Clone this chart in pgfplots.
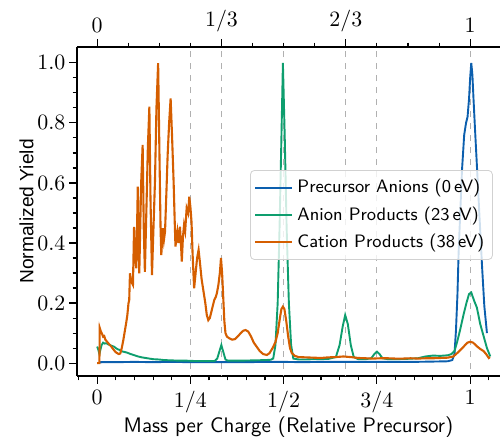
\documentclass[border=0pt]{standalone}
\usepackage{fontspec}
\usepackage{pgfplots}
\pgfplotsset{compat=1.18}
\renewcommand{\familydefault}{\sfdefault}
\newfontfamily\arialfont{Liberation Sans}
\definecolor{cblue}{HTML}{0C5FAE}
\definecolor{cgreen}{HTML}{0E9E6E}
\definecolor{corange}{HTML}{D55E00}
\definecolor{dgray}{HTML}{B0B0B0}
\pgfplotsset{
  myaxis/.style={
    scale only axis, width=211.5pt, height=164.5pt,
    xmin=-0.054, xmax=1.08, ymin=-0.043, ymax=1.053,
    tick align=outside, major tick length=3.8pt, minor tick length=2.2pt,
    every tick/.style={black, line width=0.55pt},
    axis line style={line width=0.6pt},
    font=\fontsize{10.5}{12.6}\selectfont,
  }
}
\begin{document}
\begin{tikzpicture}
\begin{axis}[myaxis,
  axis x line*=bottom, axis y line*=left,
  xtick={0,0.25,0.5,0.75,1},
  xticklabels={$0$,$1/4$,$1/2$,$3/4$,$1$},
  minor xtick={-0.05,0.05,0.1,0.15,0.2,0.3,0.35,0.4,0.45,0.55,0.6,0.65,0.7,0.8,0.85,0.9,0.95,1.05},
  ytick={0,0.2,0.4,0.6,0.8,1.0},
  minor ytick={0.05,0.1,0.15,0.25,0.3,0.35,0.45,0.5,0.55,0.65,0.7,0.75,0.85,0.9,0.95},
  yticklabel style={xshift=1.5pt, /pgf/number format/.cd, fixed, fixed zerofill, precision=1},
  xlabel={Mass per Charge (Relative Precursor)},
  ylabel={\arialfont\fontsize{9.6}{11}\selectfont Normalized Yield},
  xlabel style={yshift=5pt},
  ylabel style={yshift=-5pt},
  legend style={at={(0.983,0.626)}, anchor=north east, draw=black!18,
    rounded corners=2pt, fill=white, fill opacity=0.8, text opacity=1,
    font=\fontsize{9}{10.8}\selectfont, row sep=1.4pt, inner xsep=2pt, inner ysep=2.5pt,
    /tikz/every even column/.append style={column sep=4pt}},
  legend cell align=left,
  legend image code/.code={\draw[#1, line width=1pt] (0cm,0cm) -- (0.65cm,0cm);},
]
\coordinate (LL) at (rel axis cs:0,0);
\coordinate (UR) at (rel axis cs:1,1);
\addplot[forget plot, dgray, dashed, line width=0.5pt] coordinates {(0.25,-0.1) (0.25,1.2)};
\addplot[forget plot, dgray, dashed, line width=0.5pt] coordinates {(0.33333,-0.1) (0.33333,1.2)};
\addplot[forget plot, dgray, dashed, line width=0.5pt] coordinates {(0.5,-0.1) (0.5,1.2)};
\addplot[forget plot, dgray, dashed, line width=0.5pt] coordinates {(0.66667,-0.1) (0.66667,1.2)};
\addplot[forget plot, dgray, dashed, line width=0.5pt] coordinates {(0.75,-0.1) (0.75,1.2)};
\addplot[forget plot, dgray, dashed, line width=0.5pt] coordinates {(1,-0.1) (1,1.2)};

\addplot[cblue, line width=0.95pt] coordinates {
(0.008,0.000)(0.010,0.003)(0.050,0.003)(0.100,0.004)(0.150,0.003)(0.200,0.004)
(0.250,0.003)(0.300,0.003)(0.350,0.003)(0.400,0.003)(0.450,0.004)(0.500,0.004)
(0.550,0.003)(0.600,0.004)(0.650,0.004)(0.700,0.004)(0.750,0.004)(0.800,0.004)
(0.850,0.004)(0.900,0.005)(0.940,0.006)(0.952,0.010)(0.958,0.030)(0.962,0.110)
(0.966,0.230)(0.969,0.366)(0.973,0.488)(0.978,0.640)(0.984,0.760)(0.989,0.800)
(0.993,0.820)(0.997,0.880)(1.000,0.950)(1.003,1.000)(1.006,0.960)(1.009,0.880)
(1.013,0.780)(1.018,0.660)(1.025,0.488)(1.032,0.320)(1.038,0.190)(1.045,0.100)
};
\addlegendentry{Precursor Anions (0\,eV)}

\addplot[cgreen, line width=0.95pt] coordinates {
(0.000,0.055)(0.003,0.045)(0.006,0.030)(0.009,0.045)(0.012,0.060)(0.016,0.068)
(0.020,0.065)(0.025,0.066)(0.030,0.062)(0.035,0.060)(0.040,0.057)(0.045,0.055)
(0.050,0.050)(0.055,0.046)(0.060,0.044)(0.065,0.040)(0.070,0.038)(0.080,0.035)
(0.090,0.030)(0.100,0.026)(0.110,0.022)(0.120,0.019)(0.130,0.017)(0.140,0.015)
(0.150,0.013)(0.165,0.012)(0.180,0.010)(0.200,0.009)(0.220,0.008)(0.240,0.008)
(0.260,0.007)(0.280,0.007)(0.300,0.007)(0.315,0.007)(0.322,0.015)(0.328,0.040)
(0.333,0.060)(0.338,0.038)(0.344,0.012)(0.350,0.008)(0.380,0.008)(0.420,0.009)
(0.450,0.010)(0.465,0.011)(0.472,0.015)(0.478,0.060)(0.484,0.200)(0.489,0.450)
(0.494,0.750)(0.498,1.000)(0.503,0.750)(0.508,0.450)(0.514,0.200)(0.520,0.060)
(0.526,0.015)(0.540,0.012)(0.560,0.012)(0.580,0.013)(0.600,0.013)(0.620,0.014)
(0.640,0.020)(0.650,0.060)(0.658,0.120)(0.665,0.160)(0.672,0.130)(0.680,0.060)
(0.688,0.020)(0.700,0.013)(0.720,0.013)(0.735,0.016)(0.743,0.030)(0.750,0.038)
(0.757,0.030)(0.765,0.016)(0.780,0.013)(0.800,0.013)(0.830,0.014)(0.860,0.016)
(0.880,0.022)(0.900,0.025)(0.920,0.024)(0.940,0.026)(0.950,0.030)(0.958,0.040)
(0.965,0.070)(0.973,0.110)(0.982,0.160)(0.990,0.200)(0.997,0.230)(1.003,0.235)
(1.010,0.210)(1.018,0.185)(1.027,0.130)(1.036,0.090)(1.045,0.050)(1.054,0.022)
};
\addlegendentry{Anion Products (23\,eV)}

\addplot[corange, line width=1.05pt] coordinates {
(0.000,0.000)(0.006,0.000)(0.007,0.117)(0.010,0.105)(0.013,0.098)(0.016,0.088)
(0.019,0.090)(0.022,0.078)(0.026,0.072)(0.030,0.066)(0.034,0.060)(0.038,0.055)
(0.042,0.048)(0.046,0.042)(0.050,0.036)(0.054,0.033)(0.058,0.030)(0.062,0.032)
(0.066,0.050)(0.070,0.075)(0.074,0.105)(0.078,0.135)(0.081,0.160)(0.084,0.199)
(0.086,0.210)(0.088,0.299)(0.092,0.270)(0.096,0.260)(0.099,0.454)(0.102,0.350)
(0.105,0.316)(0.109,0.588)(0.111,0.420)(0.113,0.299)(0.116,0.480)(0.118,0.599)
(0.122,0.727)(0.125,0.450)(0.128,0.304)(0.133,0.560)(0.136,0.720)(0.140,0.854)
(0.143,0.550)(0.147,0.293)(0.151,0.450)(0.155,0.604)(0.159,0.850)(0.1635,0.999)
(0.167,0.700)(0.170,0.450)(0.172,0.360)(0.176,0.449)(0.179,0.410)(0.182,0.438)
(0.186,0.580)(0.189,0.693)(0.193,0.800)(0.197,0.882)(0.201,0.750)(0.205,0.604)
(0.208,0.470)(0.210,0.388)(0.213,0.420)(0.215,0.438)(0.218,0.400)(0.222,0.454)
(0.225,0.390)(0.227,0.338)(0.230,0.420)(0.233,0.460)(0.236,0.440)(0.240,0.516)
(0.244,0.500)(0.247,0.554)(0.250,0.520)(0.253,0.471)(0.256,0.360)(0.260,0.249)
(0.264,0.300)(0.268,0.350)(0.272,0.377)(0.276,0.330)(0.280,0.280)(0.285,0.240)
(0.290,0.200)(0.294,0.160)(0.298,0.143)(0.302,0.150)(0.306,0.170)(0.310,0.190)
(0.314,0.210)(0.318,0.220)(0.321,0.233)(0.325,0.260)(0.329,0.300)(0.332,0.350)
(0.335,0.300)(0.338,0.220)(0.341,0.140)(0.344,0.100)(0.348,0.088)(0.355,0.082)
(0.362,0.078)(0.370,0.080)(0.378,0.090)(0.385,0.100)(0.392,0.108)(0.398,0.110)
(0.405,0.105)(0.412,0.090)(0.420,0.068)(0.428,0.054)(0.436,0.040)(0.445,0.030)
(0.455,0.027)(0.462,0.033)(0.468,0.045)(0.472,0.054)(0.478,0.070)(0.484,0.100)
(0.490,0.150)(0.494,0.180)(0.498,0.188)(0.502,0.180)(0.507,0.140)(0.512,0.090)
(0.517,0.050)(0.522,0.033)(0.530,0.024)(0.540,0.020)(0.560,0.019)(0.580,0.018)
(0.600,0.017)(0.620,0.019)(0.640,0.020)(0.660,0.022)(0.680,0.020)(0.700,0.017)
(0.720,0.016)(0.740,0.015)(0.760,0.016)(0.780,0.016)(0.800,0.015)(0.820,0.015)
(0.840,0.016)(0.860,0.015)(0.880,0.016)(0.900,0.016)(0.920,0.017)(0.940,0.018)
(0.955,0.022)(0.965,0.033)(0.975,0.045)(0.985,0.058)(0.993,0.068)(1.000,0.071)
(1.008,0.068)(1.018,0.056)(1.027,0.047)(1.036,0.040)(1.044,0.028)(1.050,0.017)
(1.053,0.020)
};
\addlegendentry{Cation Products (38\,eV)}
\end{axis}
\begin{axis}[myaxis,
  axis x line*=top, axis y line=none,
  xtick={0,0.333333,0.666667,1},
  xticklabels={$0$,$1/3$,$2/3$,$1$},
  minor xtick={0.083333,0.166667,0.25,0.416667,0.5,0.583333,0.75,0.833333,0.916667},
]
\end{axis}
\pgfresetboundingbox
\path ([xshift=-38.5pt,yshift=-30.5pt]LL) rectangle ([yshift=23.5pt]UR);
\end{tikzpicture}
\end{document}
